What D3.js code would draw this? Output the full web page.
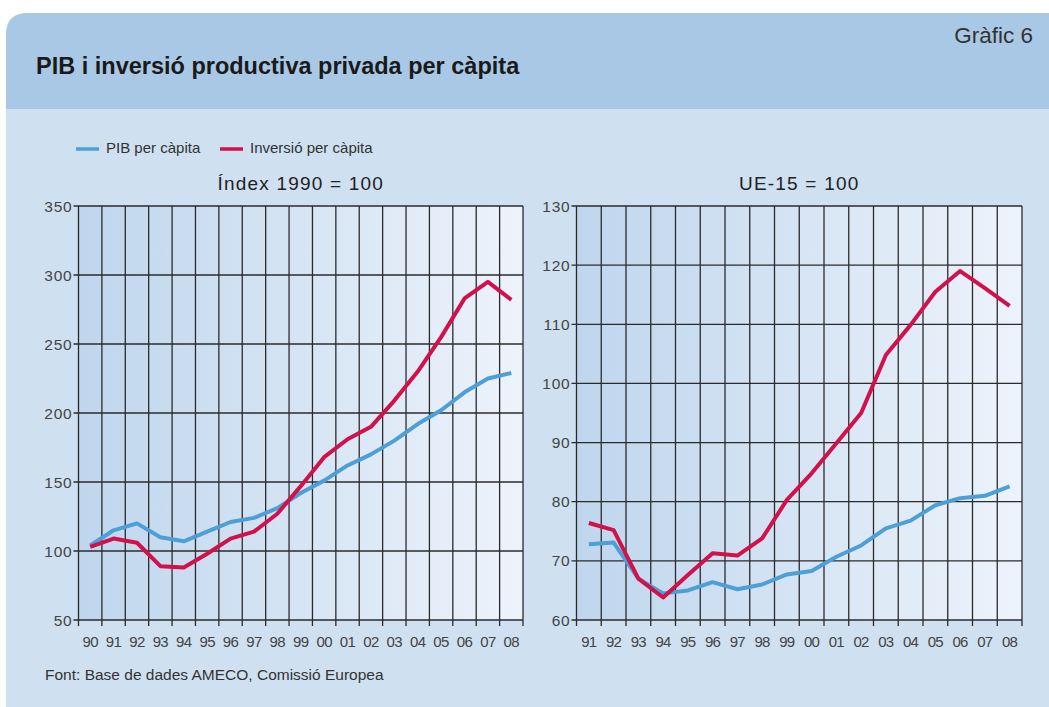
<!DOCTYPE html>
<html>
<head>
<meta charset="utf-8">
<script src="https://cdn.jsdelivr.net/npm/d3@7"></script>
<style>
  body { margin: 0; background: #fff; }
  svg { display: block; font-family: "Liberation Sans", Arial, sans-serif; }
</style>
</head>
<body>
<div id="chart"></div>
<script>
// data
var yearsA = ["90","91","92","93","94","95","96","97","98","99","00","01","02","03","04","05","06","07","08"];
var pibA   = [104,115,120,110,107,114,121,124,131,142,151,162,170,180,192,202,215,225,229];
var invA   = [103,109,106,89,88,98,109,114,127,147,168,181,190,209,230,255,283,295,282];
var ticksA = [50,100,150,200,250,300,350];

var yearsB = ["91","92","93","94","95","96","97","98","99","00","01","02","03","04","05","06","07","08"];
var pibB   = [72.8,73.1,67,64.5,65,66.4,65.2,66,67.7,68.3,70.7,72.6,75.5,76.8,79.4,80.6,81,82.6];
var invB   = [76.4,75.2,67,63.8,67.6,71.3,70.9,73.8,80.3,84.8,89.9,95,104.8,109.9,115.5,119,116.1,113.1];
var ticksB = [60,70,80,90,100,110,120,130];

var blue = "#4f9fd7", red = "#d2114b";

var width = 1049, height = 707;

var svg = d3.select("#chart").append("svg")
    .attr("width", width)
    .attr("height", height);

var defs = svg.append("defs");
var grad = defs.append("linearGradient").attr("id", "plotbg")
    .attr("x1", "0%").attr("x2", "100%").attr("y1", "0%").attr("y2", "0%");
grad.append("stop").attr("offset", "0%").attr("stop-color", "#bfd6ed");
grad.append("stop").attr("offset", "100%").attr("stop-color", "#edf3fb");

// panel background
var r = 22;
svg.append("path")
    .attr("d", "M6," + (13 + r) + " Q6,13 " + (6 + r) + ",13 L" + width + ",13 L" + width + "," + height + " L6," + height + " Z")
    .attr("fill", "#cfe0f0");
svg.append("path")
    .attr("d", "M6," + (13 + r) + " Q6,13 " + (6 + r) + ",13 L" + width + ",13 L" + width + ",109 L6,109 Z")
    .attr("fill", "#a8c8e6");

svg.append("text")
    .attr("x", 36).attr("y", 74)
    .attr("font-size", 23.5).attr("font-weight", "bold").attr("fill", "#1a1a1a")
    .text("PIB i inversió productiva privada per càpita");

svg.append("text")
    .attr("x", 1033).attr("y", 43)
    .attr("text-anchor", "end")
    .attr("font-size", 22.5).attr("fill", "#333")
    .text("Gràfic 6");

// legend
var legend = [{name: "PIB per càpita", color: blue, x: 76}, {name: "Inversió per càpita", color: red, x: 220}];
var lg = svg.selectAll(".legend").data(legend).enter().append("g").attr("class", "legend");
lg.append("line")
    .attr("x1", function (d) { return d.x; })
    .attr("x2", function (d) { return d.x + 23; })
    .attr("y1", 149).attr("y2", 149)
    .attr("stroke", function (d) { return d.color; })
    .attr("stroke-width", 3.5);
lg.append("text")
    .attr("x", function (d) { return d.x + 30; })
    .attr("y", 153)
    .attr("font-size", 15).attr("fill", "#333")
    .text(function (d) { return d.name; });

svg.append("text")
    .attr("x", 45).attr("y", 680)
    .attr("font-size", 15.5).attr("fill", "#333")
    .text("Font: Base de dades AMECO, Comissió Europea");

function panel(opts) {
    var g = svg.append("g");
    var x = d3.scaleBand().domain(opts.years).range([opts.x0, opts.x1]);
    var y = d3.scaleLinear().domain(d3.extent(opts.ticks)).range([620, 206]);

    g.append("text")
        .attr("x", (opts.x0 + opts.x1) / 2).attr("y", 190)
        .attr("text-anchor", "middle")
        .attr("font-size", 19).attr("letter-spacing", 1.2).attr("fill", "#222")
        .text(opts.title);

    g.append("rect")
        .attr("x", opts.x0).attr("y", 206)
        .attr("width", opts.x1 - opts.x0).attr("height", 414)
        .attr("fill", "url(#plotbg)");

    // horizontal grid
    g.selectAll(".hgrid").data(opts.ticks).enter().append("line")
        .attr("x1", opts.x0 - 5).attr("x2", opts.x1)
        .attr("y1", function (d) { return y(d); })
        .attr("y2", function (d) { return y(d); })
        .attr("stroke", "#2b2b2b").attr("stroke-width", 1.3);

    // vertical grid at band edges
    var edges = opts.years.map(function (d) { return x(d); }).concat([opts.x1]);
    g.selectAll(".vgrid").data(edges).enter().append("line")
        .attr("x1", function (d) { return d; })
        .attr("x2", function (d) { return d; })
        .attr("y1", 206).attr("y2", 626)
        .attr("stroke", "#2b2b2b").attr("stroke-width", 1.3);

    g.selectAll(".ylab").data(opts.ticks).enter().append("text")
        .attr("x", opts.x0 - 6)
        .attr("y", function (d) { return y(d) + 5.5; })
        .attr("text-anchor", "end")
        .attr("font-size", 15.5).attr("letter-spacing", 0.8).attr("fill", "#444")
        .text(function (d) { return d; });

    g.selectAll(".xlab").data(opts.years).enter().append("text")
        .attr("x", function (d) { return x(d) + x.bandwidth() / 2; })
        .attr("y", 647)
        .attr("text-anchor", "middle")
        .attr("font-size", 15).attr("letter-spacing", -0.6).attr("fill", "#444")
        .text(function (d) { return d; });

    var line = d3.line()
        .x(function (d, i) { return x(opts.years[i]) + x.bandwidth() / 2; })
        .y(function (d) { return y(d); });

    g.append("path").datum(opts.pib)
        .attr("d", line).attr("fill", "none")
        .attr("stroke", blue).attr("stroke-width", 4).attr("stroke-linejoin", "round");
    g.append("path").datum(opts.inv)
        .attr("d", line).attr("fill", "none")
        .attr("stroke", red).attr("stroke-width", 4).attr("stroke-linejoin", "round");
}

panel({years: yearsA, pib: pibA, inv: invA, ticks: ticksA, x0: 78.5, x1: 523, title: "Índex 1990 = 100"});
panel({years: yearsB, pib: pibB, inv: invB, ticks: ticksB, x0: 576.5, x1: 1022, title: "UE-15 = 100"});
</script>
</body>
</html>
